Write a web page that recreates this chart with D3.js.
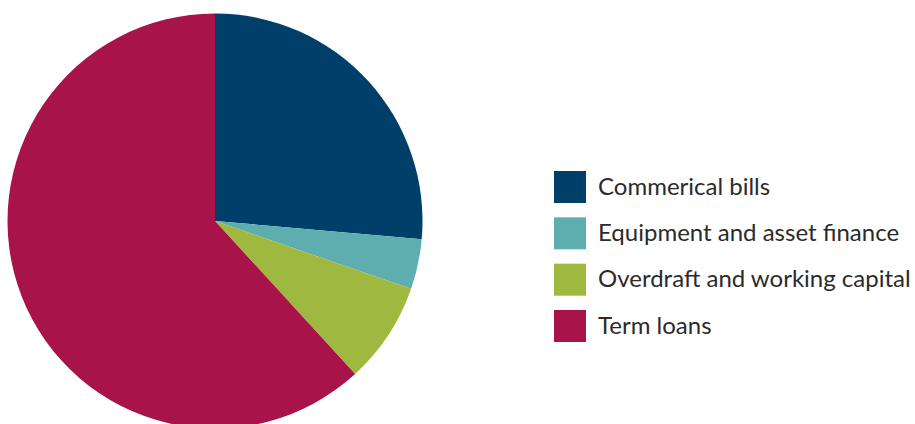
<!DOCTYPE html>
<html>
<head>
<meta charset="utf-8">
<script src="https://cdn.jsdelivr.net/npm/d3@7"></script>
<style>
  html, body { margin: 0; padding: 0; background: #ffffff; }
  svg { display: block; }
</style>
</head>
<body>
<svg id="chart" width="915" height="424"></svg>
<script>
// Loan book composition by product (% of total)
const categories = ["Commerical bills", "Equipment and asset finance", "Overdraft and working capital", "Term loans"];
const shares = [26.4, 3.9, 7.9, 61.8];
const colours = ["#003f69", "#5faeaf", "#9fb83f", "#a8134a"];

const svg = d3.select("#chart");
const cx = 215, cy = 221, radius = 207.5;

const pie = d3.pie().sort(null).value(d => d.value);
const arc = d3.arc().innerRadius(0).outerRadius(radius);
const colour = d3.scaleOrdinal().domain(categories).range(colours);

const data = categories.map((c, i) => ({ name: c, value: shares[i] }));

svg.append("g")
  .attr("transform", `translate(${cx},${cy})`)
  .selectAll("path")
  .data(pie(data))
  .join("path")
  .attr("d", arc)
  .attr("fill", d => colour(d.data.name));

// Legend
const legendY = d3.scalePoint().domain(categories).range([171, 310]);
const legend = svg.append("g")
  .selectAll("g")
  .data(categories)
  .join("g")
  .attr("transform", d => `translate(554,${legendY(d)})`);

legend.append("rect")
  .attr("width", 32)
  .attr("height", 32)
  .attr("fill", d => colour(d));

legend.append("text")
  .attr("x", 44)
  .attr("y", 23.5)
  .attr("font-family", "Lato, 'Noto Sans', sans-serif")
  .attr("font-size", 24)
  .attr("fill", "#2b2b2b")
  .text(d => d);
</script>
</body>
</html>
